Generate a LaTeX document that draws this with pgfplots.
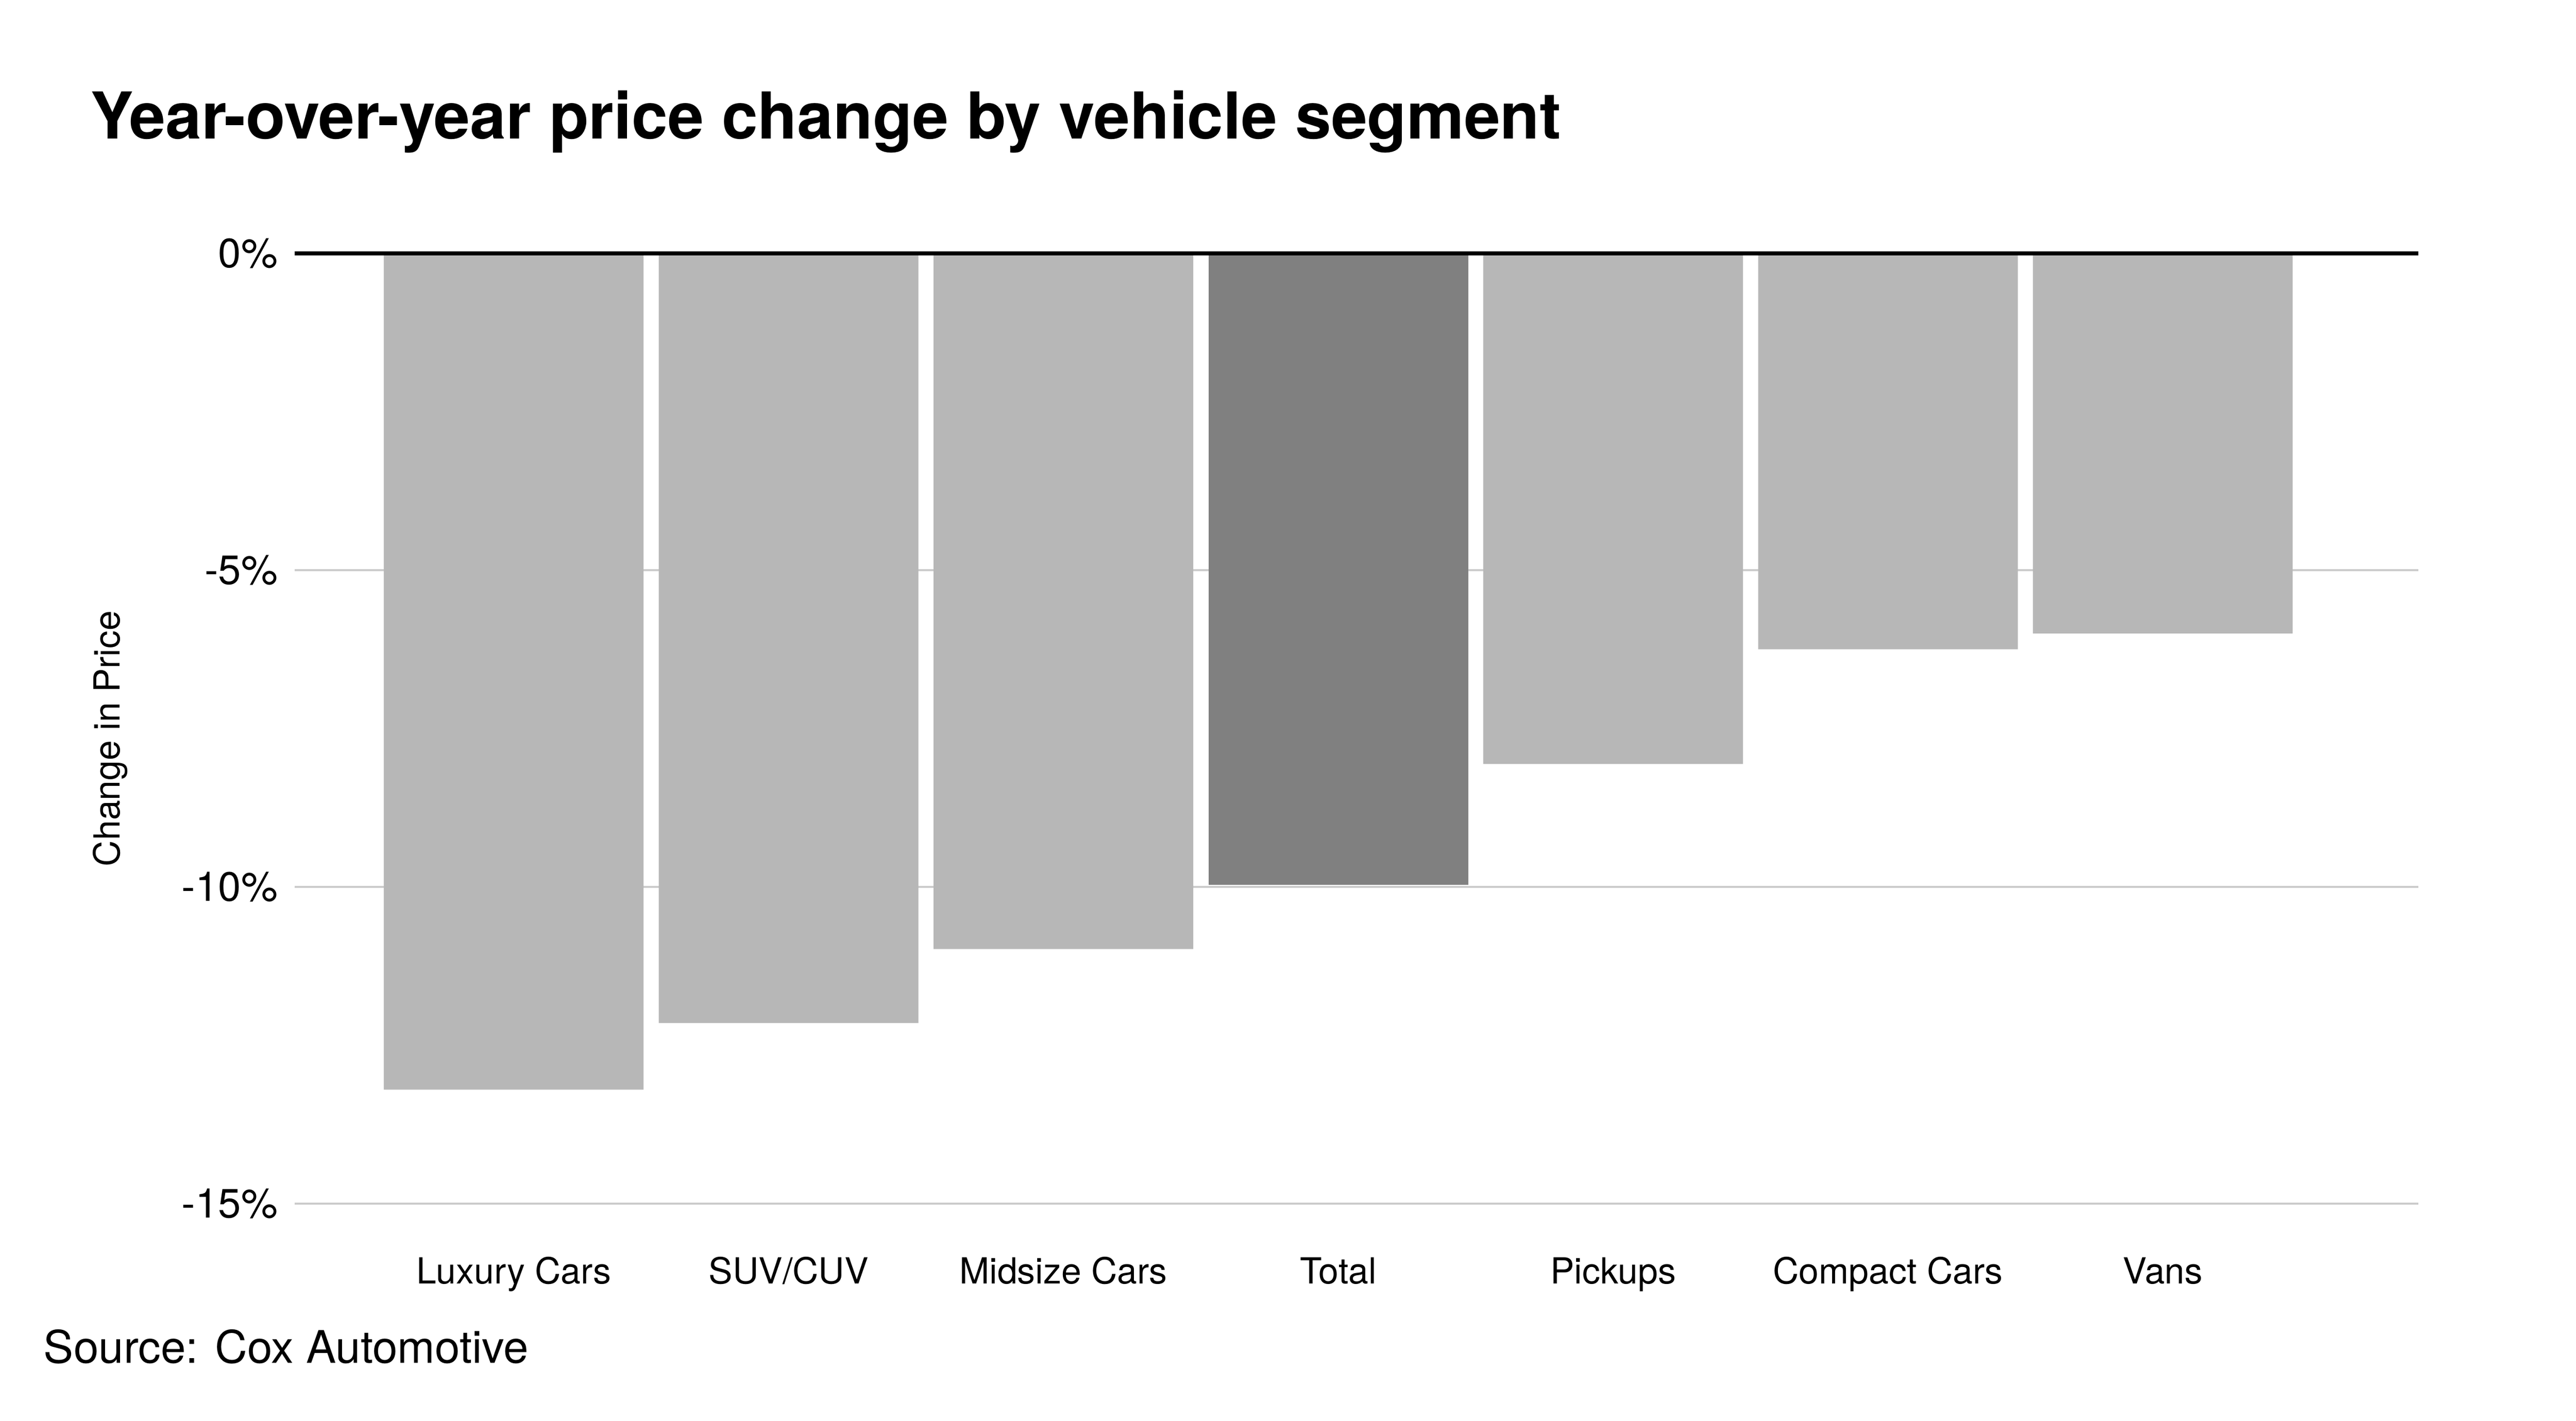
\documentclass[border=0pt]{standalone}
\usepackage{pgfplots}
\pgfplotsset{compat=1.18}
\usepackage{fontspec}
\setmainfont{TeX Gyre Heros}
\definecolor{barlight}{HTML}{B7B7B7}
\definecolor{bardark}{HTML}{808080}
\definecolor{gridc}{HTML}{CCCCCC}
\begin{document}
\begin{tikzpicture}
\path[use as bounding box] (0,0) rectangle (500bp,275.9bp);
\node[anchor=base west, inner sep=0pt] at (17.4bp,248.9bp) {\fontsize{12.6}{14}\selectfont\bfseries Year-over-year price change by vehicle segment};
\node[anchor=base west, inner sep=0pt] at (8.3bp,11.3bp) {\fontsize{8.75}{10}\selectfont Source: Cox Automotive};
\node[rotate=90, anchor=base, inner sep=0pt] at (23.2bp,132.5bp) {\fontsize{7}{8.4}\selectfont Change in Price};
\begin{axis}[
  at={(57.2bp,42.2bp)}, anchor=south west,
  scale only axis, width=412.2bp, height=184.5bp,
  xmin=-0.797, xmax=6.93, ymin=-15, ymax=0,
  clip=false,
  axis line style={draw=none},
  major tick length=0pt,
  xtick={0,1,2,3,4,5,6},
  xticklabels={Luxury Cars,SUV/CUV,Midsize Cars,Total,Pickups,Compact Cars,Vans},
  ytick={-15,-10,-5,0},
  yticklabels={-15\%,-10\%,-5\%,0\%},
  /pgf/number format/assume math mode=true,
  xticklabel style={anchor=base, inner sep=0pt, yshift=-15.5bp, font=\fontsize{7}{8.4}\selectfont},
  yticklabel style={anchor=east, inner sep=0pt, xshift=-3.1bp, font=\fontsize{8}{9.6}\selectfont},
  ymajorgrids, grid style={gridc, line width=0.4bp},
  ybar, bar width=50.4bp, bar shift=0pt,
]
\addplot[fill=barlight, draw=none] coordinates {(0,-13.2) (1,-12.15) (2,-10.98) (4,-8.06) (5,-6.25) (6,-6.0)};
\addplot[fill=bardark, draw=none] coordinates {(3,-9.97)};
\addplot[sharp plot, black, line width=0.8bp, forget plot] coordinates {(-0.797,0) (6.93,0)};
\end{axis}
\end{tikzpicture}
\end{document}
